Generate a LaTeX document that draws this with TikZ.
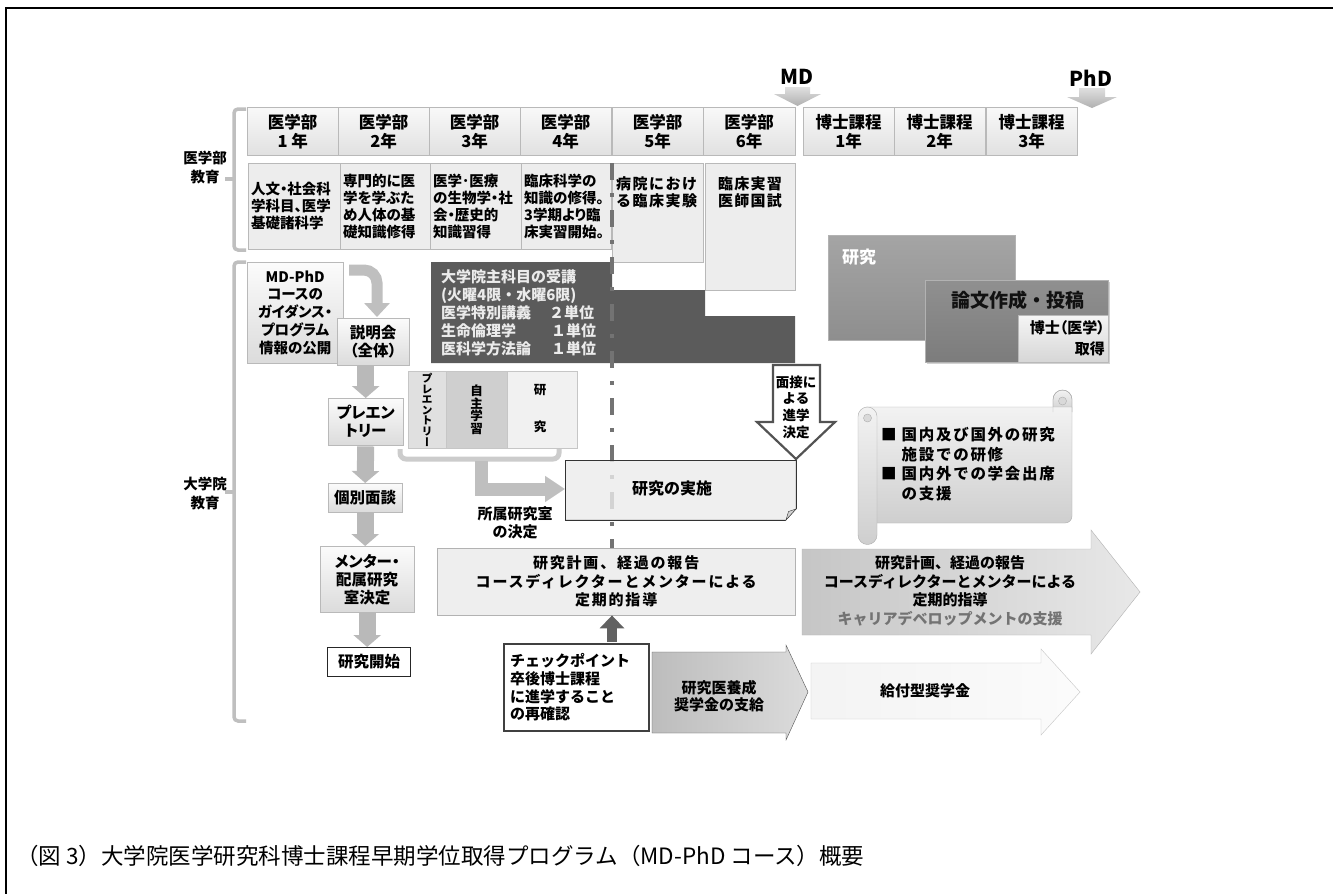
\documentclass[tikz,border=0pt]{standalone}
\usepackage{fontspec}
\setmainfont{Noto Sans CJK JP}
\usetikzlibrary{arrows.meta,shadows}
\newcommand\fsz[2]{\fontsize{#1}{#2}\selectfont}
\newcommand\palt{\addfontfeature{RawFeature=+palt}}
\definecolor{darkblk}{HTML}{5B5B5B}
\definecolor{resgray}{HTML}{8E8E8E}
\definecolor{papgray}{HTML}{7C7C7C}
\definecolor{txt}{HTML}{111111}
\tikzset{
  hdr/.style={draw=gray!55, top color=gray!5, bottom color=gray!24, minimum width=91pt, minimum height=48pt, inner sep=0pt, anchor=north west, align=center, font=\fsz{16.5}{19}\bfseries},
  cont/.style={draw=gray!55, fill=gray!14, minimum height=86pt, inner xsep=3pt, inner ysep=0pt, anchor=north west, align=left, font={\fsz{14.5}{17}\bfseries\palt}},
  plainbox/.style={draw=gray!45, fill=gray!14, inner sep=0pt, anchor=north west},
  flowbox/.style={draw=gray!55, top color=gray!3, bottom color=gray!28, inner sep=0pt, anchor=north west, align=center, font={\fsz{15.5}{18}\bfseries\palt}},
  flowarr/.style={draw=gray!55, line width=17pt, -{Triangle[width=27pt,length=12pt]}, shorten <=1pt},
  mdtxt/.style={inner sep=0pt, font=\fsz{20.5}{22}\bfseries},
  mdarrow/.style={top color=gray!25, bottom color=gray!62, draw=none},
  brk/.style={draw=gray!50, line width=3.5pt, rounded corners=4pt},
  lbl/.style={inner sep=0pt, align=center, font=\fsz{14.5}{19}\bfseries},
  dashln/.style={draw=black!55, line width=4pt, dash pattern=on 17pt off 13pt on 4pt off 13pt},
  scrollst/.style={draw=gray!65, top color=gray!10, bottom color=gray!38},
}
\begin{document}
\begin{tikzpicture}[x=1pt,y=-1pt]
\useasboundingbox (0,0) rectangle (1333,894);
\fill[white] (0,0) rectangle (1333,894);
\draw[line width=1.4pt] (6,894) -- (6,8) -- (1333,8);

% MD / PhD markers
\node[mdtxt] (mdl) at (797,77) {MD};
\node[mdtxt] (phdl) at (1091,78) {PhD};
\path[mdarrow] (785,87) -- (810,87) -- (810,94) -- (821,94) -- (797.5,106) -- (774,94) -- (785,94) -- cycle;
\path[mdarrow] (1079,88) -- (1105,88) -- (1105,97) -- (1117,97) -- (1092,108) -- (1067,97) -- (1079,97) -- cycle;

% header row
\node[hdr] (h1) at (247,107) {医学部\\1 年};
\node[hdr] (h2) at (338,107) {医学部\\2年};
\node[hdr] (h3) at (429,107) {医学部\\3年};
\node[hdr] (h4) at (520,107) {医学部\\4年};
\node[hdr] (h5) at (612,107) {医学部\\5年};
\node[hdr, minimum width=92pt] (h6) at (703,107) {医学部\\6年};
\node[hdr] (d1) at (803,107) {博士課程\\1年};
\node[hdr] (d2) at (894,107) {博士課程\\2年};
\node[hdr] (d3) at (986,107) {博士課程\\3年};

% content row
\node[cont, text width=86pt] (c1) at (248,163) {人文・社会科\\学科目、医学\\基礎諸科学};
\node[cont, text width=84pt] (c2) at (340,163) {専門的に医\\学を学ぶた\\め人体の基\\礎知識修得};
\node[cont, text width=85pt] (c3) at (430,163) {医学･医療\\の生物学・社\\会・歴史的\\知識習得};
\node[cont, text width=84pt] (c4) at (521,163) {臨床科学の\\知識の修得。\\3学期より臨\\床実習開始。};
\node[plainbox, draw=gray!55, minimum width=91pt, minimum height=99pt] (c5) at (612,163) {};
\node[anchor=north west, inner sep=0pt, align=left, font={\fsz{15}{17}\bfseries\addfontfeature{LetterSpace=10}}] (c5t) at (616,176) {病院におけ\\る臨床実験};
\node[plainbox, draw=gray!55, minimum width=90pt, minimum height=127pt] (c6) at (705,163) {};
\node[anchor=north, inner sep=0pt, align=center, font={\fsz{15}{17}\bfseries\addfontfeature{LetterSpace=8}}] (c6t) at (750,176) {臨床実習\\医師国試};

% brackets and side labels
\draw[brk] (246,109) -- (234,109) -- (234,250) -- (246,250);
\draw[brk] (234,179) -- (225,179);
\draw[brk] (246,262) -- (234,262) -- (234,721) -- (246,721);
\draw[brk] (234,492) -- (225,492);
\node[lbl] (lab1) at (205,167) {医学部\\教育};
\node[lbl] (lab2) at (205,493) {大学院\\教育};

% dark lecture block
\fill[darkblk] (431,262) -- (612,262) -- (612,290) -- (705,290) -- (705,316) -- (795,316) -- (795,363) -- (431,363) -- cycle;
\node[anchor=west, inner sep=0pt, align=left, text=white!92!black, font=\fsz{15}{18}\bfseries] (lect) at (441,313)
  {大学院主科目の受講\\(火曜4限・水曜6限)\\\makebox[108pt][l]{医学特別講義}２単位\\\makebox[110pt][l]{生命倫理学}１単位\\\makebox[110pt][l]{医科学方法論}１単位};

% research blocks top right
\node[anchor=north west, draw=gray!60, top color=resgray!80, bottom color=resgray, minimum width=187pt, minimum height=105pt, inner sep=0pt] (res) at (828,235) {};
\node[anchor=west, inner sep=0pt, text=white, font=\fsz{17}{19}\bfseries] (rest) at (842,257) {研究};
\node[anchor=north west, draw=gray!60, top color=papgray!85, bottom color=papgray, minimum width=183pt, minimum height=82pt, inner sep=0pt, drop shadow={shadow xshift=2pt, shadow yshift=-2pt, opacity=0.35}] (pap) at (925,280) {};
\node[inner sep=0pt, text=txt, font=\fsz{19}{21}\bfseries] (papt) at (1018,300) {論文作成・投稿};
\node[anchor=north west, draw=gray!55, top color=gray!8, bottom color=gray!32, minimum width=90pt, minimum height=47pt, inner sep=0pt] (phd) at (1018,315) {};
\node[anchor=east, inner sep=0pt, align=right, font={\fsz{15}{21}\bfseries\palt}] (phdt) at (1105,338) {博士（医学）\\取得};

% scroll
\path[scrollst] (1053,412) -- (1053,399.5) arc[start angle=180, end angle=360, radius=9.5] -- (1072,412) -- cycle;
\draw[scrollst] (866,407) -- (1072,407) -- (1072,516) arc[start angle=0, end angle=90, radius=7] -- (866,523) -- cycle;
\draw[draw=gray!65] (1053,412) -- (1053,399.5) arc[start angle=180, end angle=360, radius=9.5] -- (1072,412);
\draw[draw=gray!65, fill=gray!30] (1062.5,401) circle[radius=4];
\draw[scrollst] (877,416.5) -- (877,535) arc[start angle=0, end angle=180, radius=9.5] -- (858,416.5) arc[start angle=180, end angle=360, radius=9.5] -- cycle;
\draw[draw=gray!65, fill=gray!30] (867.5,418) circle[radius=4];
\node[anchor=west, inner sep=0pt, font={\fsz{15.5}{19.5}\bfseries\addfontfeature{LetterSpace=11}}] (scrt) at (881,466)
  {\begin{tabular}{@{}l@{\hspace{5pt}}l@{}}■&国内及び国外の研究\\&施設での研修\\■&国内外での学会出席\\&の支援\end{tabular}};

% left flow
\node[flowbox, minimum width=96pt, minimum height=101pt, font={\fsz{14.5}{17.8}\bfseries\palt}] (guide) at (247,262) {MD-PhD\\コースの\\ガイダンス・\\プログラム\\情報の公開};
\node[flowbox, minimum width=72pt, minimum height=47pt] (setsumei) at (337,318) {説明会\\（全体）};
\node[flowbox, minimum width=75pt, minimum height=47pt] (pre) at (328,398) {プレエン\\トリー};
\node[flowbox, minimum width=74pt, minimum height=29pt] (kobetsu) at (328,483) {個別面談};
\node[flowbox, minimum width=94pt, minimum height=66pt] (mentor) at (320,546) {メンター・\\配属研究\\室決定};
\node[flowbox, draw=black!85, line width=1.2pt, top color=white, bottom color=white, minimum width=83pt, minimum height=29pt] (start) at (327,647) {研究開始};
\coordinate (cstart) at (349,270);
\coordinate (cend) at (377,317);
\draw[draw=gray!50, line width=11pt, -{Triangle[width=25pt,length=14pt]}] (cstart) -- (364,270) to[out=0,in=90] (377,283) -- (cend);
\draw[flowarr] (setsumei.south -| pre.north) -- (pre.north);
\draw[flowarr] (pre.south) -- (kobetsu.north);
\draw[flowarr] (kobetsu.south) -- (kobetsu.south |- mentor.north);
\draw[flowarr] (mentor.south) -- (mentor.south |- start.north);

% pre-entry / self-study / research columns
\node[plainbox, fill=gray!24, minimum width=38pt, minimum height=77pt] (pe) at (408,371) {};
\node[plainbox, fill=gray!38, minimum width=61pt, minimum height=77pt] (js) at (446,371) {};
\node[plainbox, fill=gray!11, minimum width=70pt, minimum height=77pt] (kk) at (507,371) {};
\node[inner sep=0pt, align=center, font={\fsz{11}{10.6}\bfseries\addfontfeature{RawFeature=+vert}}] (pet) at (pe.center) {プ\\レ\\エ\\ン\\ト\\リ\\ー};
\node[inner sep=0pt, align=center, font=\fsz{12.5}{12.8}\bfseries] (jst) at (js.center) {自\\主\\学\\習};
\node[inner sep=0pt, align=center, font=\fsz{12.5}{12.5}\bfseries] (kkt) at (540,408.5) {研\\[24.5pt]究};
\draw[draw=gray!40, line width=5pt, rounded corners=6pt] (400,449) -- (400,459) -- (559,459) -- (559,449);

% dashed boundary line and report box
\coordinate (dl) at (612,163);
\node[anchor=north west, draw=gray!60, fill=gray!13, minimum width=358pt, minimum height=67pt, inner sep=0pt, align=center, font={\fsz{15}{18.5}\bfseries\addfontfeature{LetterSpace=12}}] (plan) at (437,548) {研究計画、経過の報告\\コースディレクターとメンターによる\\定期的指導};
\draw[dashln] (dl) -- (dl |- plan.north);

% research execution box
\node[anchor=north west, draw=black!80, fill=gray!15, fill opacity=0.8, text opacity=1, minimum width=231pt, minimum height=60pt, inner sep=0pt] (kenkyu) at (565,460) {};
\fill[white] (785.5,521) -- (797,521) -- (797,508.5) -- cycle;
\draw[black!80] (565,520) -- (786,520) -- (796,509) -- (796,460);
\draw[black!80, fill=gray!35] (786,520) -- (788.5,511.5) -- (796,509) -- cycle;
\node[inner sep=0pt, font=\fsz{16}{18}\bfseries] (kenkyut) at (672,488) {研究の実施};

% arrow to research execution
\coordinate (bk) at (481,461);
\coordinate (bk2) at (481,489);
\draw[draw=gray!50, line width=13pt, line join=miter, -{Triangle[width=25pt,length=20pt]}] (bk) -- (bk2) -- (bk2 -| kenkyu.west);
\node[lbl, font=\fsz{15}{17.5}\bfseries] (shozoku) at (515,523) {所属研究室\\の決定};

% interview arrow
\path[draw=gray!65!black, line width=2.2pt, fill=white, line join=miter] (773,365) -- (820,365) -- (820,422) -- (835,422) -- (796,459) -- (757,422) -- (773,422) -- cycle;
\node[inner sep=0pt, align=center, font=\fsz{13.5}{16.7}\bfseries] (mensetsu) at (796,407) {面接に\\よる\\進学\\決定};

% checkpoint
\node[anchor=north west, draw=black!75, line width=2pt, fill=white, minimum height=87pt, text width=133pt, inner xsep=6pt, inner ysep=0pt, align=left, font=\fsz{15}{17.7}\bfseries] (check) at (503,643) {チェックポイント\\卒後博士課程\\に進学すること\\の再確認};
\coordinate (upb) at (612,642);
\draw[draw=black!62, line width=10pt, -{Triangle[width=24pt,length=13pt]}] (upb) -- (upb |- plan.south);

% big arrows
\path[draw=gray!60, left color=gray!45, right color=gray!18] (802,549) -- (1091,549) -- (1091,530) -- (1140,592) -- (1091,654) -- (1091,635) -- (802,635) -- cycle;
\node[inner sep=0pt, align=center, font=\fsz{15}{18.7}\bfseries] (career) at (950,591) {研究計画、経過の報告\\コースディレクターとメンターによる\\定期的指導\\\textcolor{black!55}{キャリアデベロップメントの支援}};
\path[draw=gray!65!black, left color=gray!52, right color=gray!28] (652,652) -- (786,652) -- (786,645) -- (808,692) -- (786,740) -- (786,733) -- (652,733) -- cycle;
\node[inner sep=0pt, align=center, font=\fsz{15}{17.5}\bfseries] (shogaku) at (719,696) {研究医養成\\奨学金の支給};
\path[draw=gray!45, left color=gray!9, right color=gray!3] (811,663) -- (1041,663) -- (1041,649) -- (1080,692) -- (1041,735) -- (1041,719) -- (811,719) -- cycle;
\node[inner sep=0pt, font=\fsz{15}{17}\bfseries] (kyufu) at (925,691) {給付型奨学金};

% caption
\node[anchor=west, inner sep=0pt, font=\fsz{22.5}{25}] (cap) at (16,856) {（図 3）大学院医学研究科博士課程早期学位取得プログラム（MD-PhD コース）概要};
\end{tikzpicture}
\end{document}
